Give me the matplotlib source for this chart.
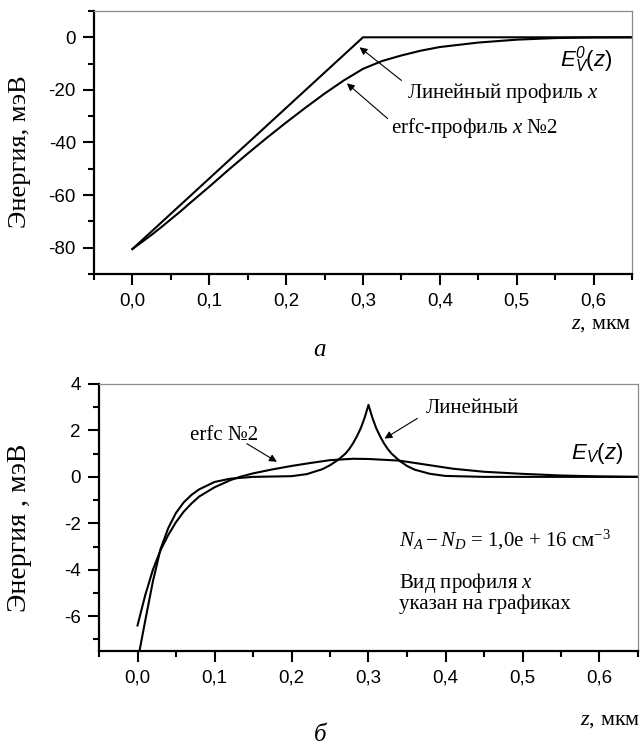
import matplotlib
matplotlib.use("Agg")
import matplotlib.pyplot as plt
from matplotlib.ticker import MultipleLocator, FuncFormatter

plt.rcParams["font.family"] = "Liberation Serif"
plt.rcParams["axes.unicode_minus"] = False
plt.rcParams["mathtext.fontset"] = "custom"
plt.rcParams["mathtext.rm"] = "Liberation Serif"
plt.rcParams["mathtext.it"] = "Liberation Serif:italic"
plt.rcParams["mathtext.sf"] = "Liberation Sans:italic"
plt.rcParams["mathtext.tt"] = "Liberation Sans"

# ---- data (a): E_V^0(z), meV ----
z_lin_a = [0.0, 0.3, 0.65]
e_lin_a = [-80.5, 0.0, 0.0]
z_erfc_a = [0.0, 0.0125, 0.025, 0.0375, 0.05, 0.0625, 0.075, 0.0875, 0.1, 0.125, 0.15,
            0.175, 0.2, 0.225, 0.25, 0.275, 0.3, 0.325, 0.35, 0.375, 0.4, 0.45, 0.5,
            0.55, 0.6, 0.65]
e_erfc_a = [-80.5, -77.8, -75.1, -72.2, -69.2, -66.2, -63.0, -59.9, -56.8, -50.4, -44.2,
            -38.2, -32.4, -26.8, -21.4, -16.4, -12.0, -9.0, -6.9, -5.1, -3.7, -2.0, -0.9,
            -0.3, -0.05, 0.0]

# ---- data (b): E_V(z), meV ----
z_lin_b = [0.002, 0.01, 0.02, 0.03, 0.04, 0.05, 0.06, 0.07, 0.08, 0.1, 0.12, 0.15, 0.2,
           0.22, 0.24, 0.25, 0.26, 0.27, 0.275, 0.28, 0.285, 0.29, 0.295, 0.3, 0.305,
           0.31, 0.315, 0.32, 0.325, 0.33, 0.34, 0.35, 0.36, 0.38, 0.4, 0.45, 0.65]
e_lin_b = [-7.6, -6.2, -4.5, -3.1, -2.2, -1.55, -1.1, -0.78, -0.54, -0.22, -0.08, 0.0, 0.03,
           0.12, 0.33, 0.5, 0.72, 1.0, 1.2, 1.45, 1.75, 2.1, 2.55, 3.1, 2.55,
           2.1, 1.75, 1.45, 1.2, 1.0, 0.7, 0.47, 0.31, 0.13, 0.04, 0.0, 0.0]
z_erfc_b = [0.0, 0.01, 0.02, 0.03, 0.04, 0.05, 0.06, 0.07, 0.08, 0.1, 0.12, 0.133, 0.15,
            0.175, 0.2, 0.225, 0.25, 0.28, 0.3, 0.34, 0.37, 0.41, 0.45, 0.5, 0.55, 0.6, 0.65]
e_erfc_b = [-6.4, -5.1, -4.0, -3.15, -2.5, -1.95, -1.5, -1.15, -0.85, -0.45, -0.15, 0.0, 0.15,
            0.32, 0.47, 0.6, 0.72, 0.78, 0.77, 0.7, 0.55, 0.35, 0.22, 0.13, 0.06, 0.02, 0.0]

xticks = [0.0, 0.1, 0.2, 0.3, 0.4, 0.5, 0.6]

W, H = 641, 749
fig = plt.figure(figsize=(W / 100, H / 100), dpi=100)


def px_axes(l, t, r, b):
    return fig.add_axes([l / W, 1 - b / H, (r - l) / W, (b - t) / H])


def style(ax):
    for s in ("left", "bottom"):
        ax.spines[s].set_linewidth(1.6)
    for s in ("top", "right"):
        ax.spines[s].set_linewidth(0.9)
        ax.spines[s].set_color("#8c8c8c")
    ax.tick_params(which="major", direction="out", length=8, width=1.5,
                   top=False, right=False, labelsize=13.5, pad=5)
    ax.tick_params(which="minor", direction="out", length=4.5, width=1.5,
                   top=False, right=False)
    for lab in ax.get_xticklabels() + ax.get_yticklabels():
        lab.set_family("Liberation Sans")
    ax.set_xlim(-0.05, 0.65)
    ax.set_xticks(xticks)
    ax.xaxis.set_minor_locator(MultipleLocator(0.05))
    ax.xaxis.set_major_formatter(FuncFormatter(lambda v, p: f"{v:.1f}".replace(".", ",")))


arrow = dict(arrowstyle="-|>", lw=0.8, color="black", mutation_scale=11, shrinkA=0, shrinkB=0)

# ---------------- (a) ----------------
ax1 = px_axes(94, 11, 632, 274)
ax1.plot(z_lin_a, e_lin_a, color="black", lw=1.5)
ax1.plot(z_erfc_a, e_erfc_a, color="black", lw=1.5)
ax1.set_ylim(-90, 10)
ax1.yaxis.set_major_locator(MultipleLocator(20))
ax1.yaxis.set_minor_locator(MultipleLocator(10))
style(ax1)

ax1.text(0.625, -8.5, r"$\mathsf{E}_\mathsf{V}^\mathsf{0}\mathtt{(}\mathsf{z}\mathtt{)}$",
         fontsize=16, ha="right", va="center")
ax1.text(0.357, -21, "Линейный профиль $x$", fontsize=15, ha="left", va="center")
ax1.annotate("", xy=(0.2956, -3.8), xytext=(0.350, -16.4), arrowprops=arrow)
ax1.text(0.337, -34.3, "erfc-профиль $x$ №2", fontsize=15, ha="left", va="center")
ax1.annotate("", xy=(0.279, -17.5), xytext=(0.332, -30.9), arrowprops=arrow)

fig.text(20 / W, 1 - 152 / H, "Энергия, мэВ", fontsize=19, rotation=90, ha="center", va="center")
fig.text(631 / W, 1 - 325 / H, "$z$, мкм", fontsize=16, ha="right", va="center")
fig.text(320 / W, 1 - 350 / H, "а", fontsize=18, style="italic", ha="center", va="center")

# ---------------- (b) ----------------
ax2 = px_axes(99, 384, 638, 651)
ax2.plot(z_lin_b, e_lin_b, color="black", lw=1.5)
ax2.plot(z_erfc_b, e_erfc_b, color="black", lw=1.5)
ax2.set_ylim(-7.5, 4)
ax2.yaxis.set_major_locator(MultipleLocator(2))
ax2.yaxis.set_minor_locator(MultipleLocator(1))
style(ax2)

ax2.text(0.0686, 1.78, "erfc №2", fontsize=15, ha="left", va="center")
ax2.annotate("", xy=(0.181, 0.65), xytext=(0.142, 1.43), arrowprops=arrow)
ax2.text(0.375, 2.96, "Линейный", fontsize=15, ha="left", va="center")
ax2.annotate("", xy=(0.3208, 1.65), xytext=(0.3635, 2.52), arrowprops=arrow)
ax2.text(0.631, 1.0, r"$\mathsf{E}_\mathsf{V}\mathtt{(}\mathsf{z}\mathtt{)}$",
         fontsize=16, ha="right", va="center")
ax2.text(0.340, -2.7, r"$N_A - N_D$ = 1,0e + 16 см$^{-3}$", fontsize=15, ha="left", va="center")
ax2.text(0.340, -4.57, "Вид профиля $x$", fontsize=15, ha="left", va="center")
ax2.text(0.340, -5.48, "указан на графиках", fontsize=15, ha="left", va="center")

fig.text(20 / W, 1 - 528 / H, "Энергия , мэВ", fontsize=20, rotation=90, ha="center", va="center")
fig.text(640 / W, 1 - 721 / H, "$z$, мкм", fontsize=16, ha="right", va="center")
fig.text(320 / W, 3 / H, "б", fontsize=18, style="italic", ha="center", va="bottom")

fig.savefig("out.png", dpi=100)
